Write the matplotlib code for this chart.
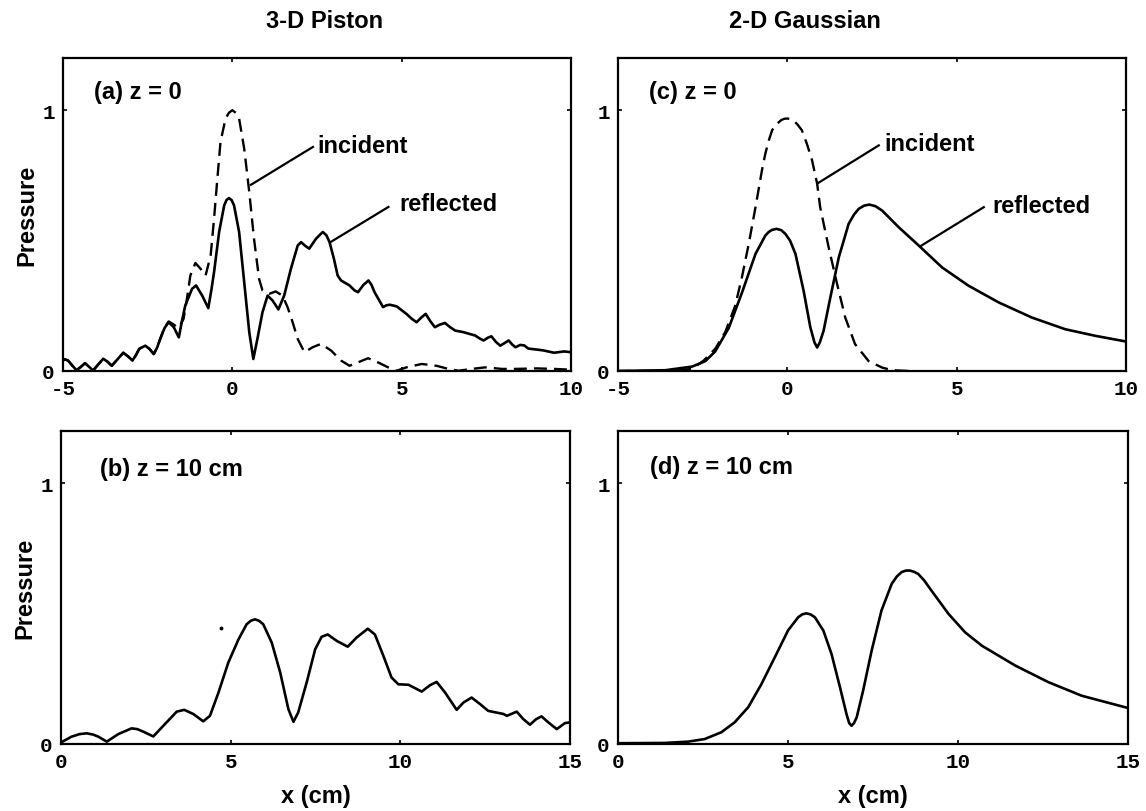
import matplotlib
matplotlib.use("Agg")
import matplotlib.pyplot as plt

# ── data ───────────────────────────────────────────────────────────────────
# (a) 3-D piston, z = 0 : reflected (solid)
a_refl_x = [-5.0, -4.95, -4.85, -4.72, -4.60, -4.48, -4.35, -4.23, -4.11, -3.96,
            -3.81, -3.68, -3.56, -3.39, -3.22, -3.07, -2.95, -2.85, -2.75, -2.57,
            -2.45, -2.32, -2.22, -2.13, -2.0, -1.88, -1.73, -1.58, -1.49, -1.39,
            -1.19, -1.07, -0.89, -0.71, -0.62, -0.54, -0.39, -0.24, -0.17, -0.10,
            -0.02, 0.05, 0.2, 0.35, 0.5, 0.62, 0.74, 0.89, 1.04, 1.19,
            1.36, 1.53, 1.73, 1.93, 2.03, 2.15, 2.27, 2.47, 2.67, 2.78,
            2.87, 3.0, 3.11, 3.21, 3.46, 3.60, 3.71, 3.87, 4.02, 4.11,
            4.20, 4.45, 4.55, 4.65, 4.85, 5.14, 5.30, 5.44, 5.58, 5.71,
            5.85, 5.98, 6.13, 6.28, 6.43, 6.58, 6.82, 7.17, 7.30, 7.42,
            7.55, 7.65, 7.78, 7.91, 8.05, 8.16, 8.26, 8.36, 8.5, 8.62,
            8.74, 9.0, 9.18, 9.5, 9.8, 10.0]
a_refl_y = [0.04, 0.045, 0.04, 0.02, 0.003, 0.015, 0.03, 0.016, 0.002, 0.025,
            0.047, 0.035, 0.02, 0.045, 0.07, 0.055, 0.04, 0.06, 0.085, 0.097,
            0.085, 0.065, 0.09, 0.123, 0.165, 0.187, 0.168, 0.129, 0.19, 0.251,
            0.315, 0.328, 0.289, 0.241, 0.31, 0.379, 0.533, 0.635, 0.656, 0.663,
            0.655, 0.635, 0.533, 0.341, 0.149, 0.046, 0.123, 0.225, 0.289, 0.27,
            0.236, 0.289, 0.392, 0.481, 0.494, 0.48, 0.469, 0.507, 0.533, 0.52,
            0.494, 0.43, 0.366, 0.347, 0.328, 0.31, 0.302, 0.33, 0.347, 0.33,
            0.302, 0.245, 0.252, 0.254, 0.248, 0.219, 0.2, 0.187, 0.205, 0.219,
            0.19, 0.168, 0.178, 0.184, 0.168, 0.155, 0.149, 0.136, 0.125, 0.117,
            0.128, 0.133, 0.112, 0.097, 0.108, 0.117, 0.102, 0.091, 0.1, 0.098,
            0.086, 0.082, 0.079, 0.07, 0.075, 0.072]

# (a) incident (dashed)
a_inc_x = [-5.0, -4.95, -4.85, -4.72, -4.60, -4.48, -4.35, -4.23, -4.11, -3.96,
           -3.81, -3.68, -3.56, -3.39, -3.22, -3.07, -2.95, -2.85, -2.75, -2.57,
           -2.45, -2.32, -2.22, -2.13, -2.0, -1.88, -1.73, -1.6, -1.52, -1.44,
           -1.34, -1.24, -1.09, -0.94, -0.79, -0.64, -0.54, -0.45, -0.35, -0.2,
           -0.1, 0.0, 0.1, 0.2, 0.35, 0.5, 0.64, 0.79, 0.89, 1.09,
           1.28, 1.48, 1.63, 1.78, 1.93, 2.13, 2.37, 2.62, 2.92, 3.21,
           3.46, 3.71, 4.01, 4.30, 4.60, 4.85, 5.14, 5.59, 6.03, 6.38,
           6.68, 7.07, 7.47, 7.96, 8.36, 9.0, 9.5, 10.0]
a_inc_y = [0.04, 0.045, 0.04, 0.02, 0.003, 0.015, 0.03, 0.016, 0.002, 0.025,
           0.047, 0.035, 0.02, 0.045, 0.07, 0.055, 0.04, 0.06, 0.085, 0.097,
           0.085, 0.065, 0.09, 0.123, 0.168, 0.19, 0.178, 0.165, 0.18, 0.2,
           0.277, 0.366, 0.414, 0.392, 0.366, 0.443, 0.584, 0.725, 0.878, 0.968,
           0.99, 1.0, 0.99, 0.968, 0.853, 0.686, 0.507, 0.353, 0.309, 0.296,
           0.305, 0.289, 0.245, 0.187, 0.123, 0.072, 0.091, 0.104, 0.078, 0.04,
           0.02, 0.033, 0.049, 0.033, 0.014, 0.001, 0.014, 0.027, 0.02, 0.008,
           0.001, 0.008, 0.014, 0.008, 0.008, 0.01, 0.008, 0.005]

# (b) 3-D piston, z = 10 cm
b_x = [0.0, 0.31, 0.55, 0.76, 0.95, 1.1, 1.35, 1.5, 1.69, 2.08,
       2.25, 2.43, 2.72, 3.06, 3.41, 3.63, 3.9, 4.19, 4.39, 4.64,
       4.93, 5.23, 5.47, 5.6, 5.72, 5.84, 5.96, 6.21, 6.46, 6.7,
       6.85, 6.99, 7.24, 7.49, 7.68, 7.86, 8.13, 8.45, 8.71, 9.04,
       9.25, 9.5, 9.74, 9.94, 10.24, 10.63, 10.87, 11.07, 11.32, 11.66,
       11.86, 12.1, 12.35, 12.59, 13.04, 13.14, 13.43, 13.62, 13.82, 14.0,
       14.16, 14.36, 14.61, 14.85, 15.0]
b_y = [0.006, 0.028, 0.038, 0.041, 0.036, 0.028, 0.009, 0.022, 0.038, 0.06,
       0.057, 0.047, 0.029, 0.076, 0.124, 0.131, 0.115, 0.087, 0.108, 0.197,
       0.312, 0.401, 0.459, 0.473, 0.478, 0.472, 0.459, 0.389, 0.274, 0.134,
       0.085, 0.121, 0.236, 0.363, 0.411, 0.42, 0.395, 0.373, 0.408, 0.442,
       0.42, 0.338, 0.255, 0.229, 0.227, 0.201, 0.225, 0.238, 0.197, 0.131,
       0.159, 0.178, 0.153, 0.127, 0.115, 0.108, 0.124, 0.096, 0.074, 0.095,
       0.106, 0.083, 0.057, 0.08, 0.083]
b_speck_x = [4.71]
b_speck_y = [0.446]

# (c) 2-D Gaussian, z = 0
c_inc_x = [-5.0, -3.5, -2.81, -2.47, -2.13, -1.83, -1.54, -1.34, -1.14, -0.94,
           -0.75, -0.65, -0.55, -0.45, -0.35, -0.18, -0.09, 0.0, 0.1, 0.2,
           0.3, 0.43, 0.58, 0.73, 0.88, 0.97, 1.22, 1.47, 1.71, 2.0,
           2.4, 2.8, 3.1, 3.6]
c_inc_y = [0.0, 0.0, 0.008, 0.04, 0.085, 0.15, 0.25, 0.36, 0.487, 0.628,
           0.769, 0.833, 0.883, 0.923, 0.942, 0.962, 0.967, 0.968, 0.966, 0.958,
           0.945, 0.923, 0.87, 0.808, 0.718, 0.628, 0.474, 0.333, 0.205, 0.103,
           0.038, 0.013, 0.003, 0.0]
c_refl_x = [-5.0, -3.6, -2.81, -2.42, -2.13, -1.73, -1.34, -0.94, -0.65, -0.55,
            -0.45, -0.32, -0.18, -0.06, 0.08, 0.24, 0.48, 0.68, 0.80, 0.88,
            0.96, 1.07, 1.27, 1.52, 1.81, 1.97, 2.11, 2.27, 2.42, 2.6,
            2.8, 3.29, 3.88, 4.57, 5.35, 6.24, 7.22, 8.21, 9.09, 10.0]
c_refl_y = [0.0, 0.003, 0.017, 0.038, 0.075, 0.165, 0.30, 0.449, 0.519, 0.533,
            0.541, 0.545, 0.54, 0.526, 0.5, 0.449, 0.308, 0.167, 0.11, 0.09,
            0.11, 0.154, 0.282, 0.436, 0.564, 0.6, 0.622, 0.634, 0.638, 0.632,
            0.615, 0.551, 0.481, 0.397, 0.327, 0.263, 0.205, 0.16, 0.135, 0.113]

# (d) 2-D Gaussian, z = 10 cm
d_x = [0.0, 1.37, 2.06, 2.55, 3.04, 3.43, 3.83, 4.22, 4.61, 5.0,
       5.3, 5.42, 5.54, 5.66, 5.79, 6.04, 6.28, 6.53, 6.72, 6.8,
       6.87, 6.94, 7.02, 7.21, 7.46, 7.75, 8.05, 8.2, 8.34, 8.47,
       8.59, 8.71, 8.83, 9.0, 9.22, 9.72, 10.21, 10.7, 11.68, 12.66,
       13.64, 15.0]
d_y = [0.003, 0.004, 0.009, 0.019, 0.045, 0.083, 0.141, 0.23, 0.332, 0.435,
       0.486, 0.497, 0.501, 0.497, 0.486, 0.435, 0.345, 0.217, 0.115, 0.08,
       0.07, 0.08, 0.102, 0.205, 0.358, 0.512, 0.614, 0.642, 0.659, 0.665,
       0.665, 0.66, 0.652, 0.628, 0.588, 0.499, 0.428, 0.377, 0.301, 0.237,
       0.185, 0.138]

col_titles = ["3-D Piston", "2-D Gaussian"]
panel_labels = ["(a) z = 0", "(b) z = 10 cm", "(c) z = 0", "(d) z = 10 cm"]
top_xticks = [-5, 0, 5, 10]
bot_xticks = [0, 5, 10, 15]

SANS = ["Liberation Sans", "DejaVu Sans"]
MONO = ["Liberation Mono", "DejaVu Sans Mono"]
LW = 1.9
DASH = (0, (5.5, 3.0))


def style_axes(ax, xticks, xlim):
    ax.set_xlim(xlim)
    ax.set_ylim(0, 1.2)
    ax.set_xticks(xticks)
    ax.set_yticks([0, 1])
    ax.set_xticklabels([str(t) for t in xticks])
    ax.set_yticklabels(["0", "1"])
    ax.tick_params(direction="in", length=3, width=1.2, top=True, right=True,
                   pad=6, labelsize=15)
    for lab in ax.get_xticklabels() + ax.get_yticklabels():
        lab.set_family(MONO)
        lab.set_fontweight("bold")
    for sp in ax.spines.values():
        sp.set_linewidth(1.6)


def annotate(ax, text, xy_text, xy_end, xy_start):
    ax.plot([xy_start[0], xy_end[0]], [xy_start[1], xy_end[1]], color="black", lw=1.6)
    ax.text(xy_text[0], xy_text[1], text, fontsize=17, fontweight="bold",
            family=SANS, va="center", ha="left")


fig = plt.figure(figsize=(11.46, 8.12), dpi=100)
W, H = 1146.0, 812.0
ax_a = fig.add_axes([63 / W, 1 - 372 / H, 508 / W, 313 / H])
ax_c = fig.add_axes([618 / W, 1 - 372 / H, 508 / W, 313 / H])
ax_b = fig.add_axes([61 / W, 1 - 745 / H, 509 / W, 313 / H])
ax_d = fig.add_axes([618 / W, 1 - 745 / H, 510 / W, 313 / H])

# top row
ax_a.plot(a_inc_x, a_inc_y, color="black", lw=1.7, linestyle=DASH)
ax_a.plot(a_refl_x, a_refl_y, color="black", lw=LW, solid_joinstyle="round")
ax_c.plot(c_inc_x, c_inc_y, color="black", lw=1.7, linestyle=DASH)
ax_c.plot(c_refl_x, c_refl_y, color="black", lw=LW, solid_joinstyle="round")
for ax in (ax_a, ax_c):
    style_axes(ax, top_xticks, (-5, 10))

# bottom row
ax_b.plot(b_x, b_y, color="black", lw=LW, solid_joinstyle="round")
ax_b.plot(b_speck_x, b_speck_y, "o", color="black", ms=1.8)
ax_d.plot(d_x, d_y, color="black", lw=LW, solid_joinstyle="round")
for ax in (ax_b, ax_d):
    style_axes(ax, bot_xticks, (0, 15))
    ax.set_xlabel("x (cm)", fontsize=17, fontweight="bold", family=SANS, labelpad=9)

for ax in (ax_a, ax_b):
    ax.set_ylabel("Pressure", fontsize=17, fontweight="bold", family=SANS, labelpad=3)

# panel labels
ax_a.text(-4.07, 1.07, panel_labels[0], fontsize=17, fontweight="bold", family=SANS, va="center")
ax_b.text(1.14, 1.057, panel_labels[1], fontsize=17, fontweight="bold", family=SANS, va="center")
ax_c.text(-4.08, 1.07, panel_labels[2], fontsize=17, fontweight="bold", family=SANS, va="center")
ax_d.text(0.95, 1.064, panel_labels[3], fontsize=17, fontweight="bold", family=SANS, va="center")

# callouts
annotate(ax_a, "incident", (2.52, 0.866), (0.55, 0.714), (2.38, 0.859))
annotate(ax_a, "reflected", (4.92, 0.642), (2.91, 0.495), (4.61, 0.629))
annotate(ax_c, "incident", (2.87, 0.872), (0.90, 0.72), (2.70, 0.865))
annotate(ax_c, "reflected", (6.04, 0.635), (3.96, 0.481), (5.80, 0.628))

# column titles
fig.text(325 / W, 1 - 22 / H, col_titles[0], fontsize=17, fontweight="bold",
         family=SANS, ha="center", va="center")
fig.text(805 / W, 1 - 22 / H, col_titles[1], fontsize=17, fontweight="bold",
         family=SANS, ha="center", va="center")

fig.savefig("out.png", dpi=100)
